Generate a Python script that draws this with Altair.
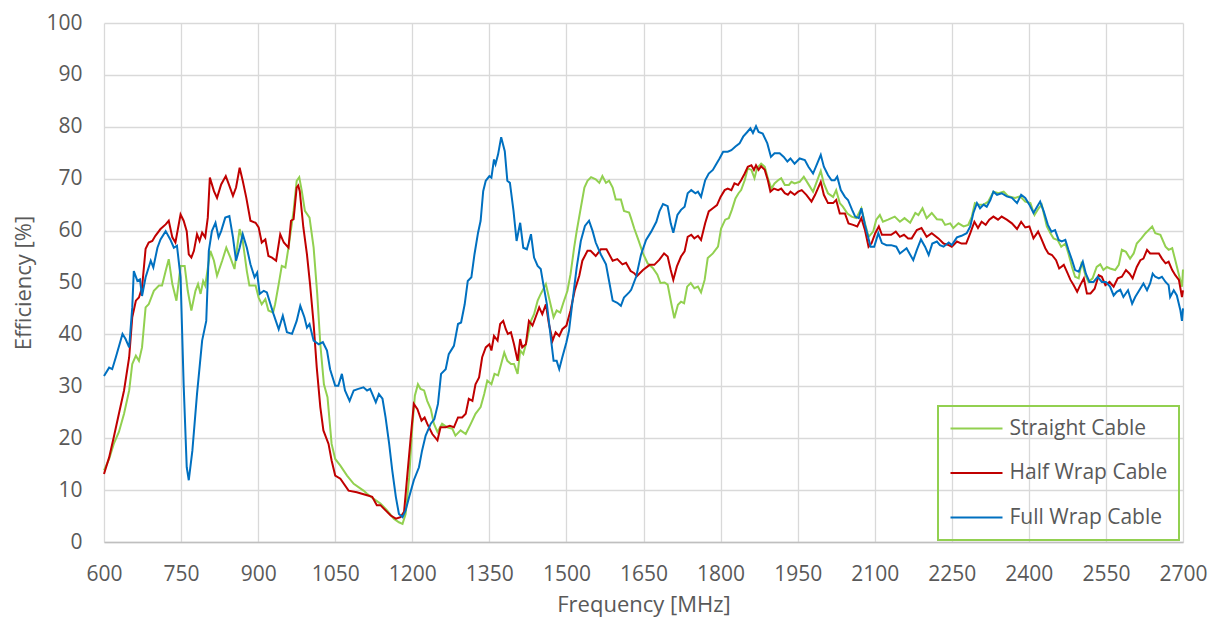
import altair as alt
import pandas as pd

# ---- Straight Cable (green) ----
straight_f = [600,610,619,629,639,649,655,662,668,674,681,687,697,707,713,720,726,733,741,749,757,763,770,778,783,788,793,797,807,814,820,830,838,846,854,860,864,870,878,883,895,901,907,914,920,929,933,940,946,953,959,969,975,980,985,991,1000,1008,1015,1021,1028,1035,1043,1050,1060,1073,1086,1105,1112,1125,1138,1151,1164,1174,1181,1187,1194,1200,1205,1211,1216,1223,1229,1236,1242,1249,1258,1268,1278,1284,1294,1304,1314,1323,1333,1340,1346,1354,1360,1367,1373,1379,1385,1392,1398,1405,1410,1416,1423,1431,1437,1444,1450,1460,1466,1475,1481,1488,1494,1502,1508,1515,1520,1528,1535,1541,1548,1557,1564,1570,1577,1583,1590,1596,1606,1612,1622,1626,1632,1640,1649,1658,1668,1677,1683,1691,1697,1704,1710,1717,1723,1729,1735,1742,1749,1756,1762,1769,1775,1785,1795,1801,1809,1816,1822,1829,1835,1840,1847,1853,1860,1866,1871,1879,1886,1892,1899,1905,1912,1918,1925,1933,1938,1944,1954,1962,1970,1980,1986,1995,2001,2009,2019,2025,2032,2038,2047,2055,2064,2074,2081,2088,2097,2103,2110,2116,2126,2139,2149,2158,2169,2179,2185,2193,2201,2211,2221,2231,2237,2247,2253,2263,2273,2282,2289,2295,2302,2312,2321,2331,2341,2351,2360,2373,2383,2393,2403,2411,2419,2425,2435,2442,2448,2456,2463,2471,2477,2484,2490,2497,2503,2510,2516,2524,2532,2539,2545,2552,2558,2568,2575,2581,2589,2597,2604,2610,2619,2627,2633,2640,2646,2656,2666,2672,2679,2685,2693,2698,2700]
straight_v = [13.8,16.0,18.9,21.2,24.7,29.2,34.3,35.9,34.9,37.5,45.2,45.8,48.4,49.4,49.4,52.2,54.5,49.7,46.5,53.2,53.2,48.4,44.6,48.4,49.7,47.8,50.3,49.4,56.1,54.2,51.3,54.2,56.7,54.8,52.6,57.4,60.3,58.0,52.2,49.4,49.4,47.1,45.8,46.8,44.6,44.2,45.8,49.7,53.2,52.9,56.7,63.8,69.6,70.3,67.6,63.8,62.5,56.7,47.8,38.1,30.4,27.9,18.9,16.0,14.7,12.8,11.2,9.9,9.3,8.3,7.4,6.1,4.5,3.8,3.5,5.4,12.5,22.1,28.2,30.4,29.5,29.2,27.2,25.6,22.8,21.2,22.8,22.1,21.8,20.5,21.5,20.8,22.8,24.7,26.0,28.5,31.1,30.4,32.4,32.1,34.3,36.5,34.9,34.3,34.3,32.4,36.9,36.2,38.8,42.6,43.9,46.5,47.8,49.7,47.1,43.3,44.6,44.2,46.1,48.4,51.6,56.7,59.9,64.4,68.3,69.6,70.3,69.9,69.2,70.5,69.2,69.6,68.3,66.0,66.0,63.8,63.5,62.3,60.4,58.2,55.6,53.7,52.8,51.5,49.9,50.0,49.6,46.0,43.1,45.7,46.3,46.0,49.2,49.9,48.9,49.2,48.1,50.5,54.7,55.6,56.9,60.4,62.1,62.4,64.0,66.2,67.2,67.8,69.7,72.0,71.7,70.1,72.0,72.9,72.3,70.1,68.1,69.1,69.7,70.1,68.8,68.8,69.4,69.1,69.4,70.4,69.1,67.5,69.1,71.5,69.1,67.2,66.5,67.8,65.3,64.6,63.3,62.7,62.4,64.3,61.4,58.8,59.8,62.1,63.0,61.7,62.1,62.7,61.7,62.4,61.5,63.4,63.0,64.3,62.4,63.4,62.2,62.1,61.1,61.4,60.5,61.4,60.8,61.1,62.7,65.3,65.0,65.0,65.6,67.5,67.2,67.5,66.6,66.3,66.6,65.6,65.3,63.0,64.3,65.0,60.8,59.5,58.5,58.2,56.9,57.5,55.6,53.0,51.1,50.8,54.0,51.4,50.1,50.8,53.0,53.5,52.4,53.0,52.7,52.4,53.4,56.3,55.9,54.6,55.6,57.5,58.5,59.5,60.1,60.8,59.5,59.2,56.9,56.3,56.6,54.3,51.1,49.2,52.5]

# ---- Half Wrap Cable (red) ----
half_f = [600,610,619,629,639,649,655,662,668,674,681,687,694,700,710,720,726,733,739,749,755,761,765,770,775,781,786,791,797,802,806,814,820,828,837,843,851,857,864,870,877,885,895,901,907,914,920,927,935,943,950,959,964,969,975,978,981,988,995,1001,1008,1014,1021,1027,1037,1043,1050,1060,1076,1092,1112,1122,1131,1138,1148,1158,1168,1177,1184,1190,1197,1203,1210,1218,1224,1229,1239,1249,1255,1265,1273,1281,1289,1297,1304,1310,1317,1323,1330,1336,1343,1350,1354,1359,1366,1371,1377,1382,1386,1392,1398,1405,1410,1414,1421,1427,1434,1440,1447,1453,1460,1466,1473,1479,1486,1492,1500,1508,1516,1525,1531,1541,1547,1557,1567,1578,1590,1599,1609,1616,1625,1632,1637,1649,1662,1671,1681,1690,1697,1703,1708,1715,1723,1730,1736,1743,1749,1756,1762,1770,1777,1785,1793,1800,1808,1814,1821,1827,1834,1840,1847,1853,1860,1865,1869,1874,1879,1886,1892,1897,1904,1912,1918,1925,1931,1936,1944,1951,1958,1967,1977,1984,1995,2001,2009,2019,2025,2032,2042,2049,2058,2066,2074,2081,2088,2094,2101,2108,2114,2123,2132,2141,2149,2157,2165,2172,2182,2191,2201,2211,2224,2234,2244,2250,2260,2269,2278,2286,2294,2301,2308,2316,2323,2331,2340,2347,2357,2367,2377,2385,2393,2401,2409,2418,2424,2432,2438,2445,2453,2459,2468,2474,2481,2487,2494,2500,2507,2513,2520,2528,2536,2542,2549,2557,2565,2573,2581,2589,2596,2602,2610,2617,2623,2630,2636,2643,2653,2659,2666,2672,2679,2685,2692,2698,2700]
half_v = [13.1,16.3,20.2,24.7,29.2,35.6,43.3,46.5,47.1,49.0,56.5,57.7,58.0,59.0,60.3,61.2,61.9,58.7,57.7,63.1,61.9,59.9,55.4,54.8,56.1,59.3,58.0,59.6,58.7,62.5,70.2,67.6,66.3,68.9,70.5,68.9,66.7,68.3,72.1,69.6,66.3,61.9,61.5,60.6,57.7,58.3,55.1,54.8,54.2,59.3,57.7,56.7,61.9,62.2,68.3,68.7,67.6,60.6,55.4,49.7,42.0,33.7,26.0,21.5,18.9,15.7,12.8,12.2,9.9,9.6,9.0,8.7,7.1,7.1,6.1,5.1,4.5,4.8,5.8,12.5,20.2,26.6,25.6,23.4,24.0,22.8,20.8,19.6,22.1,22.1,22.4,22.1,24.0,24.0,24.7,27.6,27.2,30.4,31.7,35.6,37.5,38.1,36.9,39.7,38.8,42.0,42.6,41.0,40.1,40.4,38.1,34.9,39.1,37.5,38.1,42.6,41.7,43.3,45.2,43.9,45.8,42.0,38.8,40.4,39.7,41.0,41.7,44.6,48.4,51.3,54.2,56.1,56.1,55.1,56.4,56.4,54.2,54.5,53.5,53.8,52.2,51.8,51.2,52.4,53.4,53.4,54.4,55.6,55.0,52.4,50.5,53.1,55.0,56.0,58.8,59.2,58.5,59.0,58.2,61.4,63.7,64.3,64.9,66.5,67.8,68.1,67.8,69.1,68.8,69.7,71.0,72.3,72.6,71.7,72.6,71.7,72.4,71.7,69.7,67.5,68.1,67.8,68.1,67.2,66.9,67.5,66.9,67.5,67.8,66.9,65.6,66.9,69.4,66.9,65.3,65.3,65.9,63.3,63.3,61.4,61.1,60.8,62.4,60.1,56.9,57.6,59.5,60.8,59.2,59.2,59.2,59.8,58.8,59.2,58.5,58.5,60.1,60.5,58.8,59.5,58.5,57.5,57.2,56.9,57.9,57.5,57.5,59.5,61.7,60.5,61.7,61.1,62.1,62.7,62.1,62.7,62.1,61.4,60.3,61.7,60.6,60.8,58.5,59.8,58.5,56.6,55.6,55.3,54.3,52.7,53.4,52.1,50.5,49.5,48.2,49.5,50.8,47.9,47.9,48.8,51.4,51.1,49.5,50.1,49.2,50.8,51.1,52.4,51.7,50.8,53.0,54.3,54.6,56.3,55.6,55.6,55.6,54.6,53.7,54.0,52.4,51.4,50.5,47.2,48.5]

# ---- Full Wrap Cable (blue) ----
full_f = [600,610,616,623,636,642,649,655,658,665,670,674,681,691,696,704,710,720,729,736,742,749,755,761,765,772,781,791,799,804,810,817,823,828,836,844,851,857,864,870,878,885,893,898,903,911,917,924,930,940,948,956,966,975,982,990,995,1000,1008,1018,1026,1034,1040,1050,1056,1063,1069,1078,1086,1095,1105,1112,1118,1129,1135,1142,1148,1155,1161,1168,1174,1181,1187,1194,1203,1213,1219,1226,1236,1243,1250,1256,1265,1271,1281,1289,1295,1302,1308,1315,1321,1328,1333,1338,1343,1350,1354,1359,1362,1367,1373,1380,1385,1390,1397,1403,1410,1416,1423,1431,1437,1444,1450,1455,1462,1468,1475,1481,1486,1492,1500,1505,1512,1520,1528,1536,1544,1551,1557,1567,1577,1583,1590,1599,1606,1612,1622,1626,1636,1645,1655,1665,1675,1681,1688,1697,1703,1708,1716,1723,1730,1736,1743,1751,1756,1762,1770,1777,1785,1792,1798,1805,1814,1821,1829,1837,1844,1852,1858,1863,1869,1874,1882,1891,1898,1905,1915,1923,1930,1936,1944,1954,1964,1971,1980,1988,1995,2001,2009,2016,2022,2027,2034,2042,2048,2056,2062,2069,2074,2081,2087,2092,2099,2107,2114,2123,2132,2142,2149,2162,2175,2182,2190,2198,2205,2212,2221,2227,2234,2244,2250,2260,2269,2279,2286,2292,2299,2305,2312,2318,2325,2331,2338,2347,2357,2367,2377,2385,2393,2401,2409,2416,2422,2429,2437,2444,2451,2458,2464,2471,2477,2484,2490,2497,2505,2511,2518,2526,2534,2542,2550,2558,2565,2571,2578,2584,2593,2601,2607,2615,2623,2630,2636,2641,2646,2653,2659,2666,2672,2675,2682,2688,2695,2698,2700]
full_v = [32.0,33.6,33.3,35.6,40.1,39.1,37.5,45.2,52.2,50.3,50.6,47.4,51.0,54.2,52.9,56.7,58.3,59.9,58.3,56.7,57.1,51.0,30.4,14.4,11.9,17.6,28.5,38.8,42.6,56.1,59.9,61.5,58.7,59.9,62.5,62.8,58.7,54.2,56.7,59.3,56.7,53.5,51.0,51.9,47.8,48.4,48.1,45.8,43.9,41.0,43.6,40.4,40.1,42.6,45.5,43.3,41.3,42.0,38.8,38.1,38.5,36.9,33.3,30.1,30.1,32.4,29.2,27.2,29.2,29.5,29.8,29.2,29.5,26.9,28.5,27.6,24.0,18.9,13.8,8.7,5.4,4.8,6.1,8.7,11.9,14.4,17.6,20.5,22.8,23.7,26.6,32.4,33.3,36.2,37.8,42.0,42.3,45.8,50.3,51.0,55.4,59.6,61.9,67.6,69.6,70.5,70.2,73.7,72.8,74.7,78.0,75.3,69.6,69.2,63.8,58.0,61.5,56.7,56.4,59.3,54.8,53.2,52.6,49.7,45.8,40.7,34.9,34.9,33.3,35.6,38.5,40.7,46.5,52.9,58.0,60.9,61.9,59.9,57.7,55.4,53.5,50.3,46.5,46.1,45.5,47.1,48.1,48.6,51.2,55.3,58.2,59.8,61.7,63.7,65.1,64.7,61.4,59.6,63.0,64.0,64.6,67.2,67.8,67.2,67.5,66.5,69.7,71.0,71.7,72.9,73.9,75.2,75.2,75.5,76.2,76.8,78.1,79.0,79.7,78.8,80.1,79.0,78.7,76.8,74.2,74.9,74.9,74.2,73.3,73.9,72.9,73.9,73.6,72.3,71.0,72.9,74.6,72.3,70.7,69.7,69.7,70.4,67.8,66.5,65.9,64.0,62.7,62.4,64.3,61.1,58.8,56.9,56.9,59.5,57.6,57.2,57.2,56.9,55.6,56.6,54.3,56.3,58.3,56.9,55.3,57.5,57.9,57.2,56.9,57.7,57.2,58.7,59.0,59.5,60.8,63.4,65.3,64.3,65.0,64.6,65.9,67.5,66.9,67.2,66.6,66.3,65.3,66.9,66.3,65.0,63.4,64.6,65.6,63.7,61.1,59.8,60.1,58.2,57.9,58.2,56.3,54.3,52.4,52.1,54.0,51.7,50.1,50.1,51.1,50.1,50.1,49.2,47.5,48.2,48.6,47.2,48.5,45.9,47.2,48.5,49.8,48.5,49.8,51.7,51.1,50.8,51.1,50.1,49.5,47.2,48.5,47.5,44.6,42.6,45.0]

series_names = ["Straight Cable", "Half Wrap Cable", "Full Wrap Cable"]
series_colors = ["#92d050", "#c00000", "#0070c0"]
x_ticks = list(range(600, 2701, 150))
y_ticks = list(range(0, 101, 10))

rows = []
for name, fs, vs in zip(series_names, [straight_f, half_f, full_f], [straight_v, half_v, full_v]):
    for i, (f, v) in enumerate(zip(fs, vs)):
        rows.append({"Frequency": f, "Efficiency": v, "Series": name, "idx": i})
df = pd.DataFrame(rows)

FONT = "Open Sans"
TXT = "#595959"

chart = alt.Chart(df).mark_line(strokeWidth=2).encode(
    x=alt.X("Frequency:Q",
            scale=alt.Scale(domain=[600, 2700], nice=False, zero=False),
            axis=alt.Axis(values=x_ticks, format="d", title="Frequency [MHz]", ticks=False,
                          labelPadding=21, titlePadding=10, grid=True,
                          labelOverlap=False, labelFlush=False,
                          domain=True, domainColor="#bfbfbf", domainWidth=1.5)),
    y=alt.Y("Efficiency:Q",
            scale=alt.Scale(domain=[0, 100], nice=False),
            axis=alt.Axis(values=y_ticks, format="d", title="Efficiency [%]", ticks=False,
                          labelPadding=22, titlePadding=10, grid=True, domain=False,
                          labelOverlap=False, labelFlush=False)),
    color=alt.Color("Series:N",
                    scale=alt.Scale(domain=series_names, range=series_colors),
                    sort=series_names,
                    legend=alt.Legend(title=None, orient="none", legendX=834, legendY=383,
                                      direction="vertical", symbolType="stroke",
                                      symbolSize=2704, symbolStrokeWidth=2,
                                      clipHeight=22, rowPadding=22.5, padding=11.5,
                                      labelOffset=6, labelFontSize=21, labelFont=FONT,
                                      labelColor=TXT, strokeColor="#92d050")),
    detail="Series:N",
    order="idx:Q",
).properties(
    width=1079, height=519,
    autosize=alt.AutoSizeParams(type="none"),
    padding={"left": 96, "top": 15, "right": 27, "bottom": 76},
).configure_view(stroke=None).configure_axis(
    labelFont=FONT, labelFontSize=21, labelColor=TXT,
    titleFont=FONT, titleFontSize=22, titleColor=TXT, titleFontWeight="normal",
    gridColor="#d9d9d9", gridWidth=1.3,
).configure_legend(strokeWidth=2)

chart.save("out.html", embed_options={"renderer": "svg", "actions": False})
